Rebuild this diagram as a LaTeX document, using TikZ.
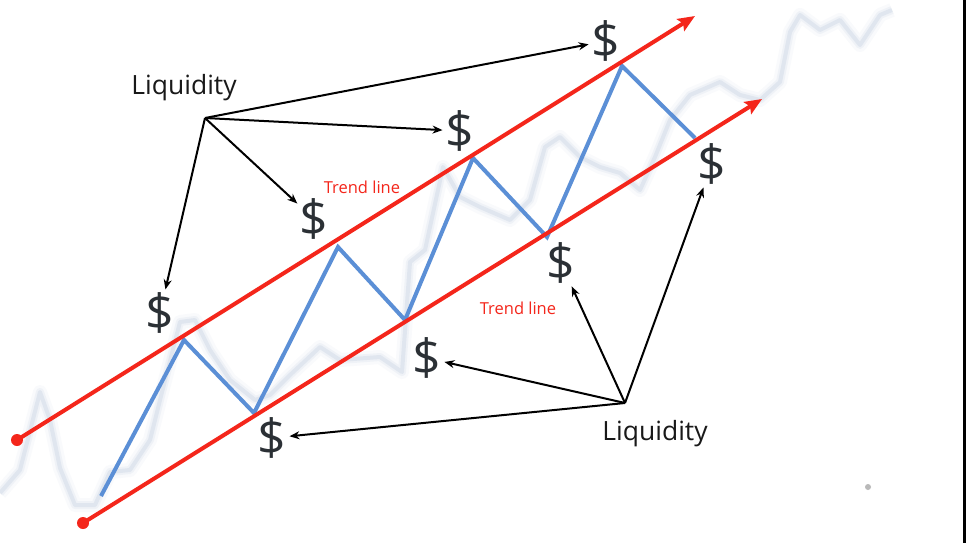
\documentclass[tikz,border=0pt]{standalone}
\usepackage{fontspec}
\setmainfont{Open Sans}
\usepackage{xcolor}
\usetikzlibrary{positioning}
\usetikzlibrary{arrows.meta}
\definecolor{trendred}{HTML}{F4261B}
\definecolor{swingblue}{HTML}{5B8FD6}
\definecolor{dollargray}{HTML}{2B3035}
\definecolor{chartbg}{HTML}{9DB2CC}

\begin{document}
\begin{tikzpicture}[x=1pt, y=-1pt,
        >={Stealth[length=10pt,width=8pt]},
        cash/.style={
        text=dollargray,
        inner sep=0pt,
        font=\fontsize{50}{50}\selectfont},
        liq/.style={
        text=black!90,
        inner sep=0pt,
        font=\fontsize{26.5}{30}\selectfont},
        trendlabel/.style={
        text=trendred,
        inner sep=0pt,
        font=\fontsize{16.5}{18}\selectfont},
        trend/.style={
        draw=trendred,
        line width=4pt,
        -{Stealth[length=17pt,width=14pt,inset=3pt]}},
        swing/.style={draw=swingblue, line width=4pt},
        pointer/.style={draw=black, line width=2pt, ->, shorten >=3pt},
        dot/.style={circle, fill=trendred, inner sep=0pt, minimum size=12pt},
        chart/.style={draw=chartbg, line join=round}]

        \useasboundingbox[fill=white] (0,0) rectangle (966,543);
        \fill[black] (963,0) rectangle (966,543);

        % blurred price chart behind
        \foreach \w/\o in {14/0.06, 8/0.10, 4/0.18}
        \draw[chart, line width=\w pt, opacity=\o] (0,493) -- (20,470) -- (40,392) -- (50,420) -- (60,468) -- (75,505) -- (95,505) -- (110,472) -- (130,470) -- (150,440) -- (160,400) -- (180,322) -- (195,320) -- (210,350) -- (230,380) -- (255,400) -- (270,395) -- (290,375) -- (320,347) -- (340,360) -- (380,357) -- (402,372) -- (410,262) -- (425,250) -- (443,167) -- (460,197) -- (480,207) -- (510,220) -- (530,200) -- (545,147) -- (560,137) -- (580,157) -- (600,167) -- (620,173) -- (640,190) -- (655,157) -- (670,120) -- (690,95) -- (720,82) -- (740,95) -- (760,100) -- (780,82) -- (790,32) -- (800,15) -- (820,30) -- (840,20) -- (860,45) -- (880,15) -- (892,10);
        \fill[gray!55] (868,487) circle (3pt);

        % swings
        \draw[swing] (101,496) -- (184,340) -- (254,413) -- (338,247) -- (405,320) -- (473,158) -- (547,237) -- (622,66) -- (695,138);

        % channel
        \node[dot] (upA) at (17,440) {};
        \node[dot] (loA) at (83,523) {};
        \coordinate (upB) at (695,16);
        \coordinate (loB) at (762,99);
        \draw[trend] (upA.center) -- (upB); % upper trend
        \draw[trend] (loA.center) -- (loB); % lower trend
        \node[trendlabel] (tlup) at (362,187) {Trend line};
        \node[trendlabel] (tllo) at (518,308) {Trend line};

        \node[cash] (d1) at (160,313) {\$};
        \node[cash] (d2) at (314,219) {\$};
        \node[cash] (d3) at (460,131) {\$};
        \node[cash] (d4) at (606,41) {\$};
        \node[cash] (d5) at (272,438) {\$};
        \node[cash] (d6) at (427,358) {\$};
        \node[cash] (d7) at (561,263) {\$};
        \node[cash] (d8) at (712,164) {\$};

        \node[liq] (liqtop) at (184,88) {Liquidity};
        \node[liq] (liqbot) at (655,434) {Liquidity};
        \coordinate (srctop) at (205,118);
        \coordinate (srcbot) at (625,403);

        \path (srctop) edge [pointer] (d1); % upper pool
        \path (srctop) edge [pointer] (d2);
        \path (srctop) edge [pointer] (d3);
        \path (srctop) edge [pointer] (d4);
        \path (srcbot) edge [pointer] (d5); % lower pool
        \path (srcbot) edge [pointer] (d6);
        \path (srcbot) edge [pointer] (d7);
        \path (srcbot) edge [pointer] (d8);
\end{tikzpicture}
\end{document}
